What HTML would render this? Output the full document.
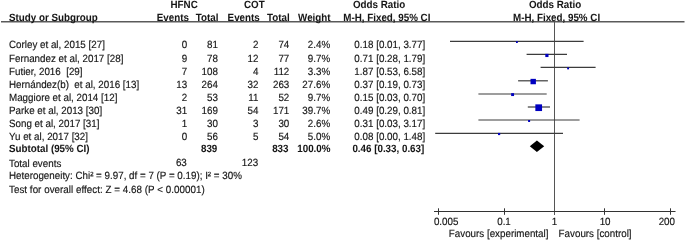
<!DOCTYPE html>
<html><head><meta charset="utf-8"><style>
html,body{margin:0;padding:0;background:#fff;}
body{width:685px;height:240px;overflow:hidden;}
svg{display:block;will-change:transform;}
text{text-rendering:geometricPrecision;font-family:"Liberation Sans",sans-serif;font-size:9.8px;fill:#161616;stroke:#161616;stroke-width:0.15px;}
text.b{font-weight:bold;stroke-width:0.04px;}
</style></head><body>
<svg width="685" height="240" viewBox="0 0 685 240">
<rect width="685" height="240" fill="#fff"/>
<line x1="1" y1="21.75" x2="684.5" y2="21.75" stroke="#5a5a5a" stroke-width="1.3"/>
<line x1="554.5" y1="21.5" x2="554.5" y2="215" stroke="#555" stroke-width="1"/>
<line x1="434" y1="211.5" x2="675.5" y2="211.5" stroke="#333" stroke-width="1.1"/>
<line x1="438.5" y1="208.3" x2="438.5" y2="214.8" stroke="#333" stroke-width="1"/>
<line x1="504.5" y1="208.3" x2="504.5" y2="214.8" stroke="#333" stroke-width="1"/>
<line x1="604.5" y1="208.3" x2="604.5" y2="214.8" stroke="#333" stroke-width="1"/>
<line x1="670.5" y1="208.3" x2="670.5" y2="214.8" stroke="#333" stroke-width="1"/>
<line x1="450" y1="41.45" x2="583.6" y2="41.45" stroke="#3c3c3c" stroke-width="1.2"/>
<rect x="516.00" y="41.20" width="1.8" height="1.8" fill="#0000C0"/>
<line x1="526.6" y1="54.45" x2="567.0" y2="54.45" stroke="#3c3c3c" stroke-width="1.2"/>
<rect x="545.30" y="53.85" width="3.2" height="3.2" fill="#0000C0"/>
<line x1="540.6" y1="67.45" x2="595.6" y2="67.45" stroke="#3c3c3c" stroke-width="1.2"/>
<rect x="567.15" y="67.45" width="1.9" height="1.9" fill="#0000C0"/>
<line x1="518.1" y1="80.80" x2="547.9" y2="80.80" stroke="#3c3c3c" stroke-width="1.2"/>
<rect x="530.50" y="78.85" width="5.4" height="5.4" fill="#0000C0"/>
<line x1="478.4" y1="94.00" x2="546.7" y2="94.00" stroke="#3c3c3c" stroke-width="1.2"/>
<rect x="511.15" y="93.15" width="2.9" height="2.9" fill="#0000C0"/>
<line x1="527.8" y1="107.00" x2="550.0" y2="107.00" stroke="#3c3c3c" stroke-width="1.2"/>
<rect x="535.35" y="104.35" width="6.7" height="6.7" fill="#0000C0"/>
<line x1="478.4" y1="120.00" x2="579.6" y2="120.00" stroke="#3c3c3c" stroke-width="1.2"/>
<rect x="528.10" y="120.00" width="2.0" height="2.0" fill="#0000C0"/>
<line x1="435.2" y1="133.30" x2="563.0" y2="133.30" stroke="#3c3c3c" stroke-width="1.2"/>
<rect x="498.00" y="132.90" width="2.2" height="2.2" fill="#0000C0"/>
<polygon points="529.8,146.2 536.9,140.6 544.2,146.2 536.9,151.9" fill="#000"/>
<text transform="translate(170.50 7.60) scale(1 1.07)" class="b" xml:space="preserve">HFNC</text>
<text transform="translate(244.00 7.60) scale(1 1.07)" class="b" xml:space="preserve">COT</text>
<text transform="translate(352.90 7.60) scale(1 1.07)" class="b" xml:space="preserve">Odds Ratio</text>
<text transform="translate(529.00 7.60) scale(1 1.07)" class="b" xml:space="preserve">Odds Ratio</text>
<text transform="translate(9.00 21.40) scale(1 1.07)" class="b" xml:space="preserve">Study or Subgroup</text>
<text transform="translate(156.80 21.40) scale(1 1.07)" class="b" xml:space="preserve">Events</text>
<text transform="translate(195.80 21.40) scale(1 1.07)" class="b" xml:space="preserve">Total</text>
<text transform="translate(227.60 21.40) scale(1 1.07)" class="b" xml:space="preserve">Events</text>
<text transform="translate(267.02 21.40) scale(1 1.07)" class="b" xml:space="preserve">Total</text>
<text transform="translate(298.10 21.40) scale(1 1.07)" class="b" xml:space="preserve">Weight</text>
<text transform="translate(343.30 21.40) scale(1 1.07)" class="b" xml:space="preserve">M-H, Fixed, 95% CI</text>
<text transform="translate(513.00 21.40) scale(1 1.07)" class="b" xml:space="preserve">M-H, Fixed, 95% CI</text>
<text transform="translate(9.00 48.25) scale(1 1.07)" xml:space="preserve">Corley et al, 2015 [27]</text>
<text transform="translate(181.65 48.25) scale(1 1.07)" xml:space="preserve">0</text>
<text transform="translate(207.00 48.25) scale(1 1.07)" xml:space="preserve">81</text>
<text transform="translate(253.05 48.25) scale(1 1.07)" xml:space="preserve">2</text>
<text transform="translate(278.40 48.25) scale(1 1.07)" xml:space="preserve">74</text>
<text transform="translate(307.77 48.25) scale(1 1.07)" xml:space="preserve">2.4%</text>
<text transform="translate(354.37 48.25) scale(1 1.07)" xml:space="preserve">0.18 [0.01, 3.77]</text>
<text transform="translate(9.00 61.60) scale(1 1.07)" xml:space="preserve">Fernandez et al, 2017 [28]</text>
<text transform="translate(181.65 61.60) scale(1 1.07)" xml:space="preserve">9</text>
<text transform="translate(207.00 61.60) scale(1 1.07)" xml:space="preserve">78</text>
<text transform="translate(247.60 61.60) scale(1 1.07)" xml:space="preserve">12</text>
<text transform="translate(278.40 61.60) scale(1 1.07)" xml:space="preserve">77</text>
<text transform="translate(307.77 61.60) scale(1 1.07)" xml:space="preserve">9.7%</text>
<text transform="translate(354.37 61.60) scale(1 1.07)" xml:space="preserve">0.71 [0.28, 1.79]</text>
<text transform="translate(9.00 74.80) scale(1 1.07)" xml:space="preserve">Futier, 2016  [29]</text>
<text transform="translate(181.65 74.80) scale(1 1.07)" xml:space="preserve">7</text>
<text transform="translate(201.55 74.80) scale(1 1.07)" xml:space="preserve">108</text>
<text transform="translate(253.05 74.80) scale(1 1.07)" xml:space="preserve">4</text>
<text transform="translate(273.68 74.80) scale(1 1.07)" xml:space="preserve">112</text>
<text transform="translate(307.77 74.80) scale(1 1.07)" xml:space="preserve">3.3%</text>
<text transform="translate(354.37 74.80) scale(1 1.07)" xml:space="preserve">1.87 [0.53, 6.58]</text>
<text transform="translate(9.00 87.75) scale(1 1.07)" xml:space="preserve">Hernández(b)  et al, 2016 [13]</text>
<text transform="translate(176.20 87.75) scale(1 1.07)" xml:space="preserve">13</text>
<text transform="translate(201.55 87.75) scale(1 1.07)" xml:space="preserve">264</text>
<text transform="translate(247.60 87.75) scale(1 1.07)" xml:space="preserve">32</text>
<text transform="translate(272.95 87.75) scale(1 1.07)" xml:space="preserve">263</text>
<text transform="translate(302.32 87.75) scale(1 1.07)" xml:space="preserve">27.6%</text>
<text transform="translate(354.37 87.75) scale(1 1.07)" xml:space="preserve">0.37 [0.19, 0.73]</text>
<text transform="translate(9.00 100.85) scale(1 1.07)" xml:space="preserve">Maggiore et al, 2014 [12]</text>
<text transform="translate(181.65 100.85) scale(1 1.07)" xml:space="preserve">2</text>
<text transform="translate(207.00 100.85) scale(1 1.07)" xml:space="preserve">53</text>
<text transform="translate(248.33 100.85) scale(1 1.07)" xml:space="preserve">11</text>
<text transform="translate(278.40 100.85) scale(1 1.07)" xml:space="preserve">52</text>
<text transform="translate(307.77 100.85) scale(1 1.07)" xml:space="preserve">9.7%</text>
<text transform="translate(354.37 100.85) scale(1 1.07)" xml:space="preserve">0.15 [0.03, 0.70]</text>
<text transform="translate(9.00 113.95) scale(1 1.07)" xml:space="preserve">Parke et al, 2013 [30]</text>
<text transform="translate(176.20 113.95) scale(1 1.07)" xml:space="preserve">31</text>
<text transform="translate(201.55 113.95) scale(1 1.07)" xml:space="preserve">169</text>
<text transform="translate(247.60 113.95) scale(1 1.07)" xml:space="preserve">54</text>
<text transform="translate(272.95 113.95) scale(1 1.07)" xml:space="preserve">171</text>
<text transform="translate(302.32 113.95) scale(1 1.07)" xml:space="preserve">39.7%</text>
<text transform="translate(354.37 113.95) scale(1 1.07)" xml:space="preserve">0.49 [0.29, 0.81]</text>
<text transform="translate(9.00 127.15) scale(1 1.07)" xml:space="preserve">Song et al, 2017 [31]</text>
<text transform="translate(181.65 127.15) scale(1 1.07)" xml:space="preserve">1</text>
<text transform="translate(207.00 127.15) scale(1 1.07)" xml:space="preserve">30</text>
<text transform="translate(253.05 127.15) scale(1 1.07)" xml:space="preserve">3</text>
<text transform="translate(278.40 127.15) scale(1 1.07)" xml:space="preserve">30</text>
<text transform="translate(307.77 127.15) scale(1 1.07)" xml:space="preserve">2.6%</text>
<text transform="translate(354.37 127.15) scale(1 1.07)" xml:space="preserve">0.31 [0.03, 3.17]</text>
<text transform="translate(9.00 140.40) scale(1 1.07)" xml:space="preserve">Yu et al, 2017 [32]</text>
<text transform="translate(181.65 140.40) scale(1 1.07)" xml:space="preserve">0</text>
<text transform="translate(207.00 140.40) scale(1 1.07)" xml:space="preserve">56</text>
<text transform="translate(253.05 140.40) scale(1 1.07)" xml:space="preserve">5</text>
<text transform="translate(278.40 140.40) scale(1 1.07)" xml:space="preserve">54</text>
<text transform="translate(307.77 140.40) scale(1 1.07)" xml:space="preserve">5.0%</text>
<text transform="translate(354.37 140.40) scale(1 1.07)" xml:space="preserve">0.08 [0.00, 1.48]</text>
<text transform="translate(9.00 152.20) scale(1 1.07)" class="b" xml:space="preserve">Subtotal (95% CI)</text>
<text transform="translate(200.95 152.20) scale(1 1.07)" class="b" xml:space="preserve">839</text>
<text transform="translate(272.15 152.20) scale(1 1.07)" class="b" xml:space="preserve">833</text>
<text transform="translate(297.26 152.20) scale(1 1.07)" class="b" xml:space="preserve">100.0%</text>
<text transform="translate(352.39 152.20) scale(1 1.07)" class="b" xml:space="preserve">0.46 [0.33, 0.63]</text>
<text transform="translate(9.00 166.60) scale(1 1.07)" xml:space="preserve">Total events</text>
<text transform="translate(175.90 166.40) scale(1 1.07)" xml:space="preserve">63</text>
<text transform="translate(241.85 166.40) scale(1 1.07)" xml:space="preserve">123</text>
<text transform="translate(9.00 179.40) scale(1 1.07)" xml:space="preserve">Heterogeneity: Chi² = 9.97, df = 7 (P = 0.19); I² = 30%</text>
<text transform="translate(9.00 192.90) scale(1 1.07)" textLength="195.70" lengthAdjust="spacing" xml:space="preserve">Test for overall effect: Z = 4.68 (P &lt; 0.00001)</text>
<text transform="translate(433.90 224.90) scale(1 1.07)" xml:space="preserve">0.005</text>
<text transform="translate(497.19 224.90) scale(1 1.07)" xml:space="preserve">0.1</text>
<text transform="translate(551.78 224.90) scale(1 1.07)" xml:space="preserve">1</text>
<text transform="translate(599.65 224.90) scale(1 1.07)" xml:space="preserve">10</text>
<text transform="translate(658.65 224.90) scale(1 1.07)" xml:space="preserve">200</text>
<text transform="translate(448.80 237.20) scale(1 1.07)" xml:space="preserve">Favours [experimental]</text>
<text transform="translate(558.60 237.00) scale(1 1.07)" xml:space="preserve">Favours [control]</text>
</svg>
</body></html>
